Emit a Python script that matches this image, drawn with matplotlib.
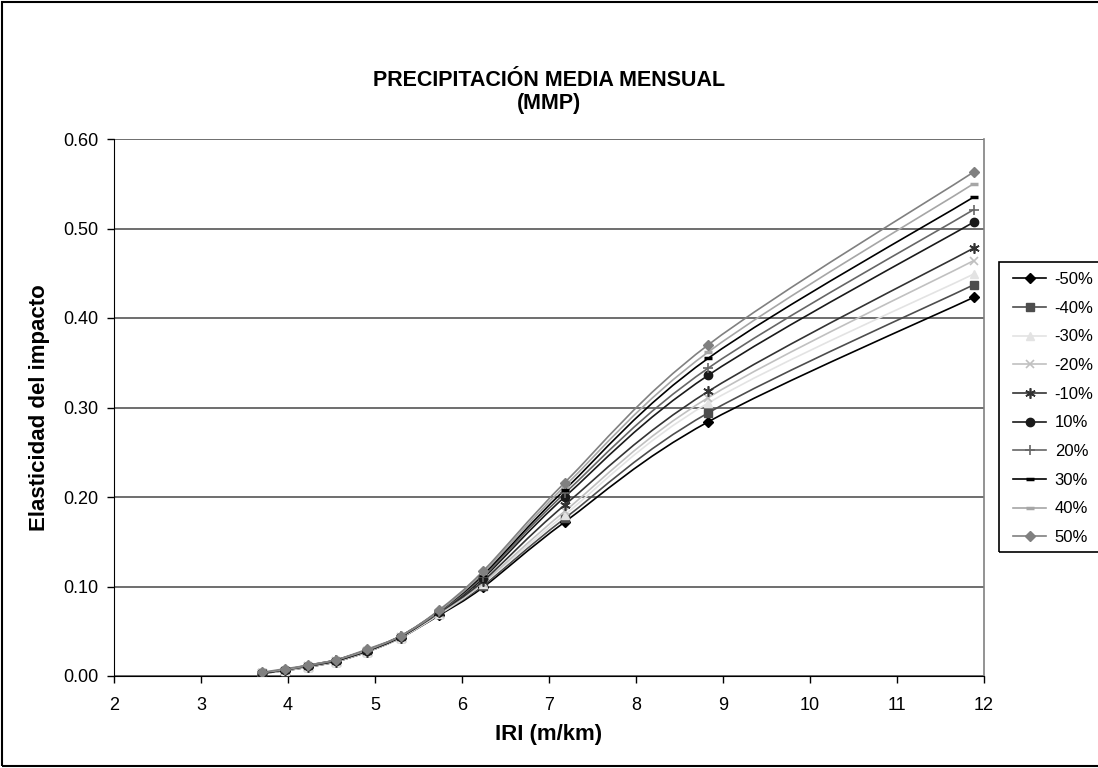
import matplotlib
matplotlib.use('Agg')
import matplotlib.pyplot as plt
import numpy as np
from matplotlib.path import Path
from matplotlib.patches import PathPatch, Rectangle
from matplotlib.lines import Line2D

plt.rcParams['font.family'] = ['Liberation Sans', 'DejaVu Sans']

iri = [3.70, 3.96, 4.23, 4.55, 4.91, 5.30, 5.74, 6.24, 7.18, 8.83, 11.88]

labels = ['-50%', '-40%', '-30%', '-20%', '-10%', '10%', '20%', '30%', '40%', '50%']

elast = {
    '-50%': [0.003, 0.006, 0.010, 0.016, 0.027, 0.043, 0.068, 0.099, 0.172, 0.284, 0.423],
    '-40%': [0.003, 0.006, 0.010, 0.016, 0.027, 0.043, 0.069, 0.101, 0.176, 0.294, 0.437],
    '-30%': [0.003, 0.006, 0.010, 0.016, 0.027, 0.043, 0.069, 0.103, 0.180, 0.305, 0.449],
    '-20%': [0.003, 0.006, 0.011, 0.017, 0.028, 0.044, 0.070, 0.104, 0.184, 0.311, 0.464],
    '-10%': [0.003, 0.007, 0.011, 0.017, 0.028, 0.044, 0.071, 0.106, 0.191, 0.318, 0.478],
    '10%':  [0.003, 0.007, 0.011, 0.017, 0.028, 0.044, 0.072, 0.109, 0.200, 0.336, 0.507],
    '20%':  [0.003, 0.007, 0.011, 0.018, 0.029, 0.045, 0.072, 0.111, 0.204, 0.344, 0.521],
    '30%':  [0.003, 0.007, 0.012, 0.018, 0.029, 0.045, 0.073, 0.113, 0.208, 0.355, 0.535],
    '40%':  [0.004, 0.007, 0.012, 0.018, 0.029, 0.045, 0.073, 0.115, 0.212, 0.362, 0.550],
    '50%':  [0.004, 0.008, 0.012, 0.018, 0.030, 0.045, 0.074, 0.117, 0.216, 0.370, 0.563],
}

# colour, marker, marker size, marker edge width
styles = {
    '-50%': ('#000000', 'D', 5.0, 1.0),
    '-40%': ('#4d4d4d', 's', 5.5, 1.0),
    '-30%': ('#e3e3e3', '^', 6.0, 1.0),
    '-20%': ('#c0c0c0', 'x', 6.0, 1.2),
    '-10%': ('#333333', (6, 2, 0), 7.5, 1.2),
    '10%':  ('#1a1a1a', 'o', 6.0, 1.0),
    '20%':  ('#666666', '+', 7.0, 1.2),
    '30%':  ('#000000', '_', 6.0, 2.5),
    '40%':  ('#a6a6a6', '_', 6.0, 2.5),
    '50%':  ('#808080', 'D', 5.0, 1.0),
}


def smooth_path(x, y):
    # Bezier segments through every point, like a spreadsheet "smoothed line"
    pts = np.column_stack([x, y])
    n = len(pts)
    verts = [pts[0]]
    codes = [Path.MOVETO]
    for i in range(n - 1):
        p0 = pts[i - 1] if i > 0 else pts[i]
        p1 = pts[i]
        p2 = pts[i + 1]
        p3 = pts[i + 2] if i + 2 < n else pts[i + 1]
        c1 = p1 + (p2 - p0) / 6.0
        c2 = p2 - (p3 - p1) / 6.0
        verts += [c1, c2, p2]
        codes += [Path.CURVE4] * 3
    return Path(verts, codes)


fig = plt.figure(figsize=(10.98, 7.68), dpi=100)
ax = fig.add_axes([114 / 1098, 1 - 676 / 768, 870 / 1098, 537 / 768])

handles = []
for lab in labels:
    col, mk, ms, mew = styles[lab]
    ax.add_patch(PathPatch(smooth_path(iri, elast[lab]), facecolor='none',
                           edgecolor=col, lw=1.2, zorder=3))
    ax.plot(iri, elast[lab], linestyle='none', marker=mk, markersize=ms,
            color=col, markeredgecolor=col, markeredgewidth=mew, zorder=4)
    handles.append(Line2D([], [], color=col, lw=1.2, marker=mk, markersize=ms,
                          markeredgecolor=col, markeredgewidth=mew, label=lab))

ax.set_xlim(2, 12)
ax.set_ylim(0, 0.60)
ax.set_xticks(range(2, 13))
ax.set_yticks(np.arange(0, 0.61, 0.10))
ax.set_yticklabels([f'{v:.2f}' for v in np.arange(0, 0.61, 0.10)])
ax.yaxis.grid(True, color='#555555', lw=1.2)
ax.set_axisbelow(True)
ax.tick_params(direction='out', length=5, width=1, labelsize=13, colors='black')
ax.tick_params(axis='x', pad=10)
ax.tick_params(axis='y', pad=6)

ax.spines['left'].set_color('black')
ax.spines['bottom'].set_color('black')
ax.spines['top'].set_visible(False)
ax.spines['right'].set_color('#808080')
ax.spines['right'].set_linewidth(1.2)

ax.set_xlabel('IRI (m/km)', fontsize=16, fontweight='bold')
ax.set_ylabel('Elasticidad del impacto', fontsize=16, fontweight='bold')
ax.xaxis.set_label_coords(0.5, -0.09)
ax.yaxis.set_label_coords(-0.073, 0.5)

fig.text(549 / 1098, 1 - 81 / 768, 'PRECIPITACIÓN MEDIA MENSUAL', ha='center',
         va='center', fontsize=15.5, fontweight='bold')
fig.text(549 / 1098, 1 - 103 / 768, '(MMP)', ha='center', va='center',
         fontsize=15.5, fontweight='bold')

# legend entries without frame, box drawn separately
leg = fig.legend(handles=handles, loc='upper left',
                 bbox_to_anchor=(1013 / 1098, 1 - 272 / 768), fontsize=12,
                 frameon=False, handlelength=2.0, handletextpad=0.5,
                 labelspacing=0.82, borderpad=0, borderaxespad=0)
fig.patches.append(Rectangle((999 / 1098, 1 - 552 / 768), 0.2, 290 / 768,
                             transform=fig.transFigure, fill=False,
                             edgecolor='black', lw=1.2))

fig.patches.append(Rectangle((2 / 1098, 2 / 768), 1.2, 1 - 4 / 768,
                             transform=fig.transFigure, fill=False,
                             edgecolor='black', lw=1.5))

fig.savefig('out.png', dpi=100)
